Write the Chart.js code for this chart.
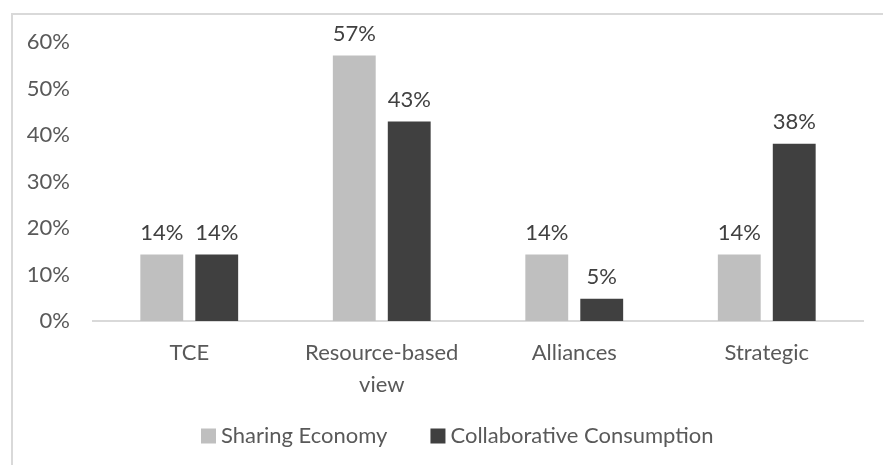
<!DOCTYPE html>
<html>
<head>
<meta charset="utf-8">
<script src="https://cdn.jsdelivr.net/npm/chart.js@4/dist/chart.umd.min.js"></script>
<style>
  html, body { margin: 0; padding: 0; background: #fff; }
  #wrap { width: 883px; height: 465px; position: relative; }
</style>
</head>
<body>
<div id="wrap"><canvas id="barras"></canvas></div>
<script>
const categories = [['TCE'], ['Resource-based', 'view'], ['Alliances'], ['Strategic']];
const sharingEconomy = [14.3, 57.1, 14.3, 14.3];
const collaborativeConsumption = [14.3, 42.9, 4.8, 38.1];
const seriesNames = ['Sharing Economy', 'Collaborative Consumption'];
const seriesColors = ['#bfbfbf', '#404040'];
const yTicks = [0, 10, 20, 30, 40, 50, 60];

const FONT = 'Lato, "Open Sans", sans-serif';
const FONT_SIZE = 22;

// frame line around the chart area (top and left edges only are in view)
const frame = {
  id: 'frame',
  beforeDraw(chart) {
    const ctx = chart.ctx;
    ctx.save();
    ctx.fillStyle = '#fff';
    ctx.fillRect(0, 0, chart.width, chart.height);
    ctx.fillStyle = '#d9d9d9';
    ctx.fillRect(11, 13, 2, chart.height);
    ctx.fillRect(11, 13, chart.width, 2);
    ctx.restore();
  }
};

// percentage labels above each bar
const valueLabels = {
  id: 'valueLabels',
  afterDatasetsDraw(chart) {
    const ctx = chart.ctx;
    ctx.save();
    ctx.font = FONT_SIZE + 'px ' + FONT;
    ctx.fillStyle = '#404040';
    ctx.textAlign = 'center';
    ctx.textBaseline = 'middle';
    chart.data.datasets.forEach((ds, i) => {
      chart.getDatasetMeta(i).data.forEach((bar, j) => {
        ctx.fillText(Math.round(ds.data[j]) + '%', bar.x, bar.y - 22);
      });
    });
    ctx.restore();
  }
};

// legend row under the axis
const legendRow = {
  id: 'legendRow',
  afterDraw(chart) {
    const ctx = chart.ctx;
    const box = 15, gapText = 5, gapItem = 43;
    ctx.save();
    ctx.font = FONT_SIZE + 'px ' + FONT;
    ctx.textBaseline = 'middle';
    let x = 201;
    const y = 436;
    seriesNames.forEach((name, i) => {
      ctx.fillStyle = seriesColors[i];
      ctx.fillRect(x, y - box / 2, box, box);
      ctx.fillStyle = '#595959';
      ctx.fillText(name, x + box + gapText, y);
      x += box + gapText + ctx.measureText(name).width + gapItem;
    });
    ctx.restore();
  }
};

let bar = new Chart(document.getElementById('barras'), {
  type: 'bar',
  data: {
    labels: categories,
    datasets: [
      {
        label: seriesNames[0],
        data: sharingEconomy,
        backgroundColor: seriesColors[0]
      },
      {
        label: seriesNames[1],
        data: collaborativeConsumption,
        backgroundColor: seriesColors[1]
      }
    ]
  },
  options: {
    responsive: true,
    maintainAspectRatio: false,
    animation: false,
    categoryPercentage: 0.571,
    barPercentage: 0.78,
    layout: {
      padding: { left: 13, right: 20, top: 42, bottom: 54 }
    },
    scales: {
      x: {
        grid: { display: false, drawTicks: false },
        border: { display: true, color: '#d9d9d9', width: 2 },
        ticks: {
          padding: 16,
          color: '#595959',
          font: { family: FONT, size: FONT_SIZE, lineHeight: 1.45 }
        },
        afterFit(scale) { scale.height = 90; }
      },
      y: {
        min: 0,
        max: 60,
        grid: { display: false, drawTicks: false },
        border: { display: false },
        afterBuildTicks(scale) { scale.ticks = yTicks.map(v => ({ value: v })); },
        ticks: {
          padding: 23,
          color: '#595959',
          font: { family: FONT, size: FONT_SIZE },
          callback: v => v + '%'
        },
        afterFit(scale) { scale.width = 80; }
      }
    },
    plugins: {
      legend: { display: false },
      tooltip: { enabled: false }
    }
  },
  plugins: [frame, valueLabels, legendRow]
});
</script>
</body>
</html>
